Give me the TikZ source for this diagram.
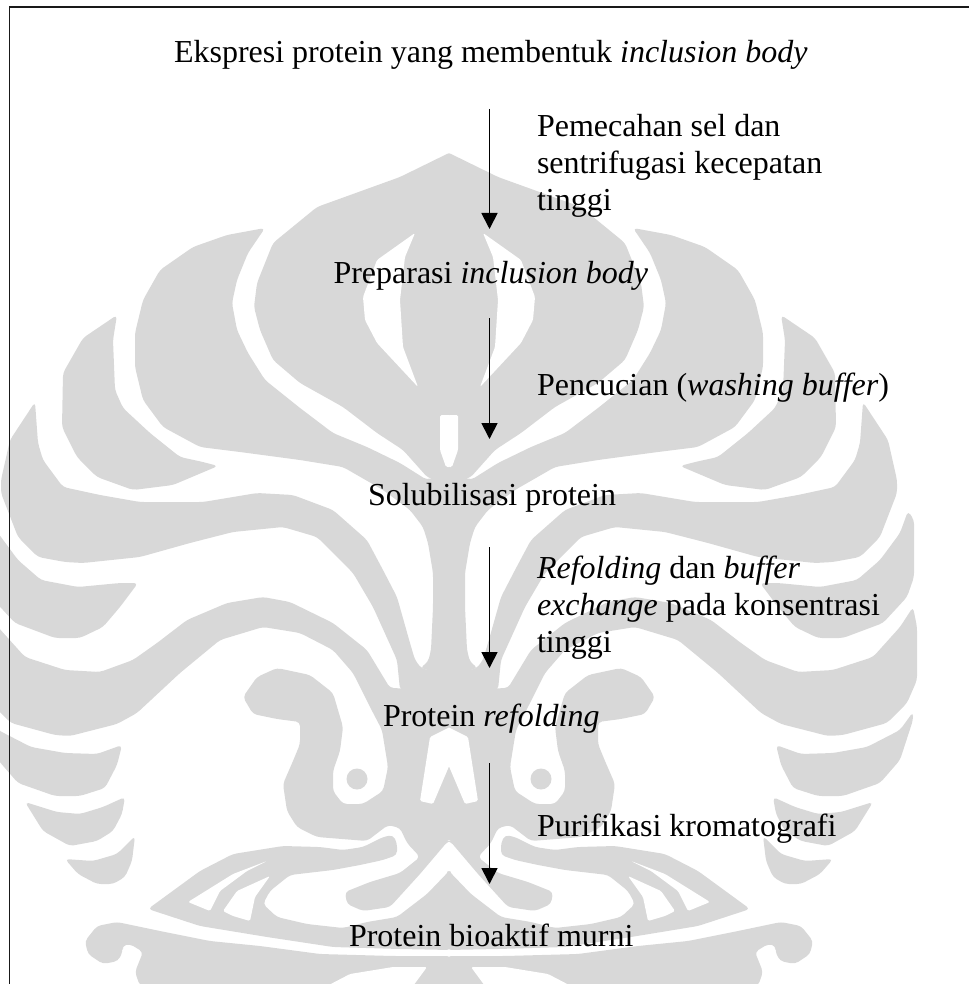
\documentclass[tikz,border=0pt]{standalone}
\usepackage{fontspec}
\setmainfont{Liberation Serif}
\usetikzlibrary{arrows.meta}
\definecolor{wmgray}{RGB}{216,216,216}
\tikzset{
  wm/.style={fill=wmgray,rounded corners=4pt},
  wmw/.style={fill=white,rounded corners=1.5pt},
  lbl/.style={inner sep=0pt,outer sep=0pt,anchor=base west,font=\fontsize{32}{37}\selectfont,align=left},
  arr/.style={line width=1.8pt,-{Triangle[length=16pt,width=16pt]}},
  frameline/.style={line width=1.8pt,black!90}
}
\newcommand{\grayhalf}{%
 % central petal
 \fill[wm] (451,152)--(400,177)--(317,207)--(273,243)--(257,283)--(254,307)--(260,330)--(273,360)--(300,383)--(343,407)--(377,433)--(403,450)--(428,478)--(451,482)--cycle;
 % second petal and trunk
 \fill[wm] (265,228)--(227,235)--(193,247)--(160,270)--(143,300)--(135,333)--(135,367)--(143,400)--(163,427)--(200,447)--(240,452)--(300,460)--(343,467)--(383,490)--(410,510)--(423,527)--(428,543)--(433,573)--(433,607)--(431,650)--(428,662)--(420,668)--(451,676)--(451,470)--(427,480)--(400,463)--(367,447)--(333,433)--(300,408)--(265,380)--(248,353)--(237,330)--(232,303)--(237,280)--(248,253)--cycle;
 % third leaf
 \fill[wm] (117,315)--(83,338)--(63,373)--(62,427)--(77,457)--(97,477)--(133,490)--(173,485)--(218,466)--(203,462)--(180,457)--(150,433)--(123,408)--(115,390)--(113,340)--cycle;
 % fourth band
 \fill[wm] (35,402)--(10,440)--(1,480)--(1,493)--(18,537)--(38,557)--(65,562)--(83,563)--(140,557)--(190,543)--(233,532)--(283,527)--(317,537)--(353,573)--(373,607)--(397,660)--(400,690)--(451,690)--(451,672)--(422,669)--(415,660)--(410,643)--(397,597)--(383,570)--(367,540)--(333,510)--(293,495)--(257,493)--(203,502)--(140,502)--(100,495)--(63,487)--(43,460)--(38,443)--cycle;
 % fifth leaf
 \fill[wm] (138,583)--(120,583)--(78,587)--(41,580)--(18,560)--(-2,533)--(-10,511)--(-16,520)--(-16,577)--(-9,597)--(15,623)--(55,638)--(80,638)--(103,627)--(120,607)--cycle;
 % sixth band, blob and neck
 \fill[wm] (65,670)--(100,672)--(133,660)--(157,643)--(187,620)--(227,603)--(263,597)--(290,602)--(333,623)--(367,650)--(390,688)--(451,690)--(451,841)--(448,841)--(420,874)--(390,907)--(363,911)--(347,904)--(345,892)--(370,882)--(400,873)--(420,857)--(407,843)--(400,828)--(388,825)--(367,841)--(317,837)--(297,827)--(287,811)--(283,784)--(293,761)--(300,744)--(300,722)--(277,719)--(253,714)--(243,697)--(257,677)--(277,668)--(310,675)--(333,693)--(343,727)--(340,751)--(333,771)--(333,791)--(343,804)--(363,804)--(383,791)--(388,767)--(382,730)--(370,707)--(353,673)--(333,650)--(300,633)--(263,627)--(220,640)--(180,673)--(137,713)--(117,724)--(70,736)--(55,735)--(11,723)--(-9,703)--(-19,680)--(-19,627)--(-15,607)--(-2,627)--(25,657)--cycle;
 % seventh and eighth leaves
 \fill[wm] (122,745)--(97,754)--(65,753)--(31,747)--(-2,730)--(-15,712)--(-15,720)--(-2,760)--(18,783)--(55,796)--(80,796)--(105,788)--(117,765)--cycle;
 \fill[wm] (25,802)--(57,812)--(80,814)--(103,807)--(125,797)--(122,814)--(113,831)--(97,841)--(70,846)--(43,831)--cycle;
 \fill[wm] (65,859)--(93,861)--(117,854)--(135,836)--(132,861)--(125,877)--(113,884)--(97,884)--(78,874)--cycle;
 % bird
 \fill[wm] (148,909)--(200,871)--(233,854)--(283,846)--(320,847)--(343,850)--(363,847)--(383,837)--(393,835)--(397,843)--(397,855)--(383,860)--(360,865)--(333,870)--(290,875)--(270,891)--(263,904)--(277,917)--(307,924)--(343,928)--(367,922)--(397,917)--(427,894)--(451,869)--(451,950)--(400,949)--(333,947)--(267,937)--(200,926)--cycle;
 % scroll base
 \fill[wm] (97,926)--(117,922)--(160,931)--(210,941)--(260,946)--(320,954)--(393,956)--(451,956)--(451,986)--(140,986)--(135,972)--(143,952)--(130,944)--(122,946)--(123,951)--(118,961)--(103,964)--(88,954)--(85,941)--cycle;
 \fill[wmgray] (357,779) circle (10.5);
 % trunk core, closes the seams on the axis
 \fill[wmgray] (425,672) rectangle (451,836);
 \fill[wmgray] (436,480) rectangle (451,672);
}
\newcommand{\whitehalf}{%
 \fill[wmw] (415,233)--(377,260)--(363,297)--(365,320)--(377,343)--(418,387)--(403,347)--(400,300)--(405,257)--cycle;
 \fill[wmw] (450,415)--(440,415)--(440,450)--(446,467)--(450,467)--cycle;
 \fill[wmw] (450,727)--(430,737)--(420,801)--(433,804)--(450,764)--cycle;
 \fill[wmw] (188,902)--(233,874)--(267,861)--(247,871)--(220,891)--(210,911)--cycle;
 \fill[wmw] (223,911)--(237,891)--(270,876)--(255,897)--(250,921)--(233,916)--cycle;
 \fill[wmw] (427,967)--(393,967)--(350,974)--(327,986)--(413,986)--cycle;
}
\begin{document}
\begin{tikzpicture}[x=1pt,y=-1pt]
 \useasboundingbox (0,0) rectangle (969,984);
 \begin{scope}
  \clip (0,0) rectangle (969,984);
  \grayhalf
  \begin{scope}[xshift=898pt,xscale=-1]\grayhalf\end{scope}
  \whitehalf
  \begin{scope}[xshift=898pt,xscale=-1]\whitehalf\end{scope}
 \end{scope}
 % frame
 \coordinate (fa) at (9.5,984);
 \coordinate (fb) at (9.5,7);
 \coordinate (fc) at (969,7);
 \draw[frameline] (fa)--(fb)--(fc);
 % labels
 \node[lbl] (n1) at (174,63) {Ekspresi protein yang membentuk \textit{inclusion body}};
 \node[lbl] (n2) at (333.5,283) {Preparasi \textit{inclusion body}};
 \node[lbl] (n3) at (368,505) {Solubilisasi protein};
 \node[lbl] (n4) at (383,726) {Protein \textit{refolding}};
 \node[lbl] (n5) at (349,946) {Protein bioaktif murni};
 \node[lbl] (l1a) at (537,137) {Pemecahan sel dan};
 \node[lbl] (l1b) at (537,174) {sentrifugasi kecepatan};
 \node[lbl] (l1c) at (537,211) {tinggi};
 \node[lbl] (l2) at (537,395) {Pencucian (\textit{washing buffer})};
 \node[lbl] (l3a) at (537,578) {\textit{Refolding} dan \textit{buffer}};
 \node[lbl] (l3b) at (537,615) {\textit{exchange} pada konsentrasi};
 \node[lbl] (l3c) at (537,652) {tinggi};
 \node[lbl] (l4) at (537,836) {Purifikasi kromatografi};
 % arrows
 \coordinate (a1s) at (489.5,109); \coordinate (a1e) at (489.5,229);
 \coordinate (a2s) at (489.5,318); \coordinate (a2e) at (489.5,439);
 \coordinate (a3s) at (489.5,547); \coordinate (a3e) at (489.5,668);
 \coordinate (a4s) at (489.5,763); \coordinate (a4e) at (489.5,884);
 \draw[arr] (a1s)--(a1e);
 \draw[arr] (a2s)--(a2e);
 \draw[arr] (a3s)--(a3e);
 \draw[arr] (a4s)--(a4e);
\end{tikzpicture}
\end{document}
